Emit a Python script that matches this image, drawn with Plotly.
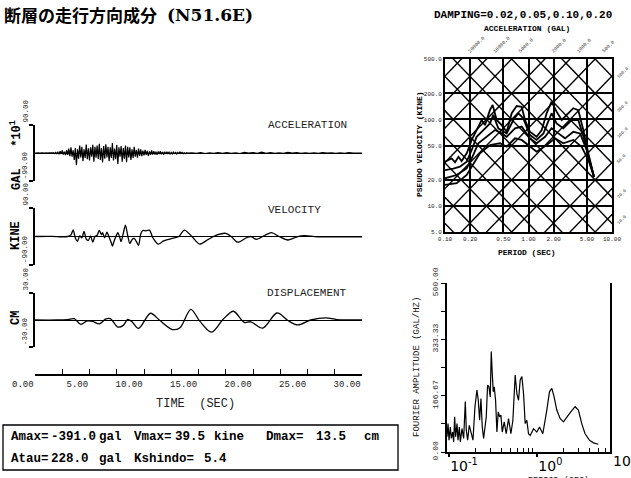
import math
import plotly.graph_objects as go

W, H = 631, 478
def px(x): return x / W
def py(y): return 1 - y / H

MONO = "Liberation Mono"

# ---------------- time histories ----------------
acc_head = [
    0, 0.5, -0.3, 0.4, -0.5, 0.3, -0.2, 0.6, -0.4, 0.3,
    -0.5, 0.8, -0.6, 1.0, -0.8, 1.2, -1.0, 0.9, -1.5, 1.8,
    -2, 3, -4, 6, -3, 8, -5, 4, -7, 9,
    -6, 14, -10, 18, -12, 9, -22, 16, -39, 12,
    -18, 24, -14, 20, -26, 12, -16, 27, -20, 15,
    -24, 18, -12, 26, -28, 20, -15, 24, -19, 30,
    -22, 16, -30, 22, -18, 28, -14, 20, -26, 18,
    -16, 32, -24, 14, -20, 26, -35, 18, -12, 22,
    -28, 16, -18, 24, -30, 20, -14, 18, -22, 12,
    -16, 20, -12, 10, -15, 14, -9, 12, -10, 8,
    -8, 10, -6, 7, -9, 5, -6, 8, -5, 6,
    -5, 4, -6, 5, -3, 6, -4, 3, -5, 4,
    -3, 4, -2, 3, -4, 2, -3, 3, -2, 2,
    -3, 2, -2, 3, -1, 2, -2, 1, -2, 1,
    0,
]
acc_tail = [
    0.8, -1.2, 1.0, -1.5, 0.6, -1.0, 1.4, -0.8, 1.0, -1.2,
    0.8, -1.5, 2.0, -0.6, 1.2, -1.0, 2.5, -0.8, 1.0, -1.2,
    0.6, -0.8, 2.2, -0.6, 1.0, -1.0, 0.8, -1.2, 0.6, -0.8,
    1.0, -0.6, 0.8, -1.0, 0.6, -0.8, 1.2, -0.6, 0.4, -0.2,
]
acc_t = [round(0.1 * i, 1) for i in range(len(acc_head))] + \
        [round(14.4 + 0.4 * i, 1) for i in range(len(acc_tail))]
acc_v = acc_head + acc_tail

vel_t = [0.0, 1.5, 2.5, 3.0, 3.3, 3.5, 3.7, 3.9, 4.1, 4.3, 4.5, 4.7, 4.9, 5.1, 5.3,
         5.5, 5.7, 5.9, 6.1, 6.2, 6.4, 6.6, 6.8, 7.0, 7.1, 7.3, 7.5, 7.6, 7.8, 7.9,
         8.1, 8.3, 8.5, 8.7, 8.9, 9.1, 9.3, 9.5, 9.7, 9.9, 10.2, 10.5, 10.8, 11.3,
         11.8, 12.6, 13.2, 13.7, 14.4, 15.1, 15.9, 16.7, 17.5, 18.0, 18.6, 19.4,
         19.8, 20.3, 21.1, 21.7, 22.4, 23.2, 23.8, 24.4, 24.8, 25.9, 27.5, 30.0]
vel_v = [0, 0.5, -1, 0, 5, 21, -5, -15, 2, -4, 16, -8, -12, 2, -18,
         0, 4, 19, 6, 12, -4, 14, -2, -20, -30, -10, 6, 12, -6, -16,
         10, 36, 4, -22, -10, -6, -16, -28, 8, 19, 18, 20, -3, -24,
         -14, -6, 0, 20, 0, -24, -9, 5, 10, 0, -18, -4,
         0, -9, 4, 12, 0, -11, -4, 2, 3, -1, -1, -1]

disp_t = [0.0, 2.0, 3.0, 3.6, 4.2, 4.8, 5.3, 5.9, 6.5, 6.9, 7.6, 8.1, 8.5, 8.9, 9.5,
          10.6, 11.4, 12.6, 13.3, 14.3, 15.1, 16.2, 17.3, 18.2, 19.2, 19.8, 20.9,
          22.2, 23.2, 24.1, 25.3, 26.7, 27.7, 30.0]
disp_v = [0, 0, 0.5, 1.4, -4.8, -1, -1.5, -4.4, 1.2, 1.5, -7.8, -6, 0.7, -2, -9.3,
          7.5, 0, -10.6, -8.5, 11.9, -1, -13.5, 1.3, 9.7, -2.7, -2, -9,
          7.8, -0.5, -5.5, 0, 2.4, 0.5, 0]

time_ticks = [0, 5, 10, 15, 20, 25, 30]
time_labels = ["0.00", "5.00", "10.00", "15.00", "20.00", "25.00", "30.00"]
time_minor = [2.5, 7.5, 12.5, 17.5, 22.5, 27.5]

# ---------------- response spectra (pseudo velocity, kine) ----------------
T_h02 = [0.1, 0.12, 0.132, 0.145, 0.158, 0.182, 0.209, 0.239, 0.275, 0.301, 0.346, 0.372,
         0.416, 0.477, 0.548, 0.629, 0.721, 0.828, 0.908, 1.04, 1.25, 1.44, 1.65, 1.89,
         2.17, 2.5, 3.0, 3.44, 3.95, 4.54, 5.21, 6.08]
V_h02 = [32.5, 35.5, 32, 37, 33, 40.6, 58, 75.5, 98.6, 86, 129, 147,
         98.6, 86, 72, 118, 143, 140, 98.6, 72, 63, 75.5, 118, 161,
         123, 98.6, 118, 135, 128, 75, 40.6, 21.8]
T_h05 = [0.1, 0.126, 0.151, 0.182, 0.209, 0.239, 0.288, 0.346, 0.379, 0.435, 0.548, 0.658,
         0.755, 0.867, 1.04, 1.25, 1.51, 1.73, 1.89, 2.17, 2.61, 3.29, 3.95, 4.54, 5.21, 6.08]
V_h05 = [26, 27, 28.5, 32.5, 44.4, 63, 75.5, 90, 113, 79, 69, 98.6,
         118, 103, 66, 58, 69, 94, 118, 90, 79, 98.6, 98.6, 63, 37, 21.8]
T_h10 = [0.1, 0.138, 0.182, 0.209, 0.251, 0.315, 0.397, 0.477, 0.548, 0.689, 0.828, 1.04,
         1.25, 1.58, 1.89, 2.28, 2.74, 3.44, 4.14, 4.97, 6.08]
V_h10 = [20.9, 22.8, 27.2, 35.5, 53, 63, 75.5, 69, 63, 79, 82.6, 60.5,
         53, 63, 79, 69, 60.5, 72, 69, 44.4, 21.8]
T_h20 = [0.1, 0.138, 0.182, 0.218, 0.262, 0.346, 0.456, 0.548, 0.689, 0.828, 1.04, 1.25,
         1.65, 2.08, 2.61, 3.44, 4.33, 5.21, 6.08]
V_h20 = [17.5, 18.3, 22.8, 29.8, 40.6, 50.7, 53, 48.4, 60.5, 58, 48.4, 42.4,
         50.7, 60.5, 53, 58, 48.4, 34, 21.8]

sa_lines = [5, 10, 20, 50, 100, 200, 500, 1000, 2000, 5000, 10000, 20000]      # gal
sd_lines = [0.1, 0.2, 0.5, 1, 2, 5, 10, 20, 50, 100, 200, 500]                 # cm
sa_top_labels = [20000, 10000, 5000, 2000, 1000, 500]
sd_right_labels = [500, 200, 100, 50, 20, 10]

period_ticks = [0.1, 0.2, 0.5, 1, 2, 5, 10]
period_labels = ["0.10", "0.20", "0.50", "1.00", "2.00", "5.00", "10.00"]
sv_ticks = [5, 10, 20, 50, 100, 200, 500]
sv_labels = ["5.0", "10.0", "20.0", "50.0", "100.0", "200.0", "500.0"]

# ---------------- Fourier amplitude ----------------
four_T = [0.0957, 0.0983, 0.1009, 0.1044, 0.1072, 0.111, 0.1139, 0.1169, 0.12, 0.1243,
          0.1276, 0.1321, 0.1356, 0.1416, 0.1479, 0.1544, 0.1585, 0.1641, 0.1714, 0.179,
          0.1886, 0.1987, 0.2093, 0.2167, 0.2244, 0.2323, 0.2405, 0.249, 0.2578, 0.2669,
          0.2763, 0.2861, 0.2962, 0.3041, 0.3121, 0.3204, 0.3289, 0.3405, 0.3525, 0.365,
          0.3779, 0.3913, 0.4051, 0.4268, 0.4496, 0.4778, 0.5078, 0.5349, 0.5684, 0.5937,
          0.62, 0.6477, 0.6765, 0.7065, 0.7379, 0.7706, 0.8049, 0.8406, 0.9169, 1.0,
          1.072, 1.169, 1.298, 1.391, 1.479, 1.571, 1.684, 1.837, 2.004, 2.186,
          2.427, 2.716, 2.963, 3.232, 3.526, 3.947, 4.381, 4.99]
four_A = [45, 84, 35, 74, 40, 59, 30, 104, 45, 84,
          35, 74, 30, 69, 40, 149, 64, 35, 79, 54,
          35, 134, 183, 153, 94, 158, 74, 40, 84, 104,
          198, 193, 163, 297, 233, 178, 193, 153, 59, 119,
          104, 109, 59, 89, 54, 99, 54, 94, 228, 173,
          153, 213, 223, 173, 84, 94, 54, 49, 69, 59,
          74, 54, 124, 178, 188, 163, 124, 99, 89, 104,
          119, 134, 124, 84, 54, 35, 27, 23]
four_ticks = [0, 166.67, 333.33, 500]
four_labels = ["0.00", "166.67", "333.33", "500.00"]
four_yminor = [83.33, 250, 416.67]
four_minor = [0.2, 0.3, 0.4, 0.5, 0.6, 0.7, 0.8, 0.9, 2, 3, 4, 5, 6]

# ---------------- figure ----------------
fig = go.Figure()
blk = "black"

fig.add_trace(go.Scatter(x=acc_t, y=acc_v, xaxis="x", yaxis="y", mode="lines",
                         line=dict(color=blk, width=1.2)))
fig.add_trace(go.Scatter(x=vel_t, y=vel_v, xaxis="x", yaxis="y2", mode="lines",
                         line=dict(color=blk, width=1.3, shape="spline", smoothing=0.8)))
fig.add_trace(go.Scatter(x=disp_t, y=disp_v, xaxis="x", yaxis="y3", mode="lines",
                         line=dict(color=blk, width=1.3, shape="spline", smoothing=0.9)))

# tripartite diagonals
TT = [0.03, 30]
for sa in sa_lines:
    fig.add_trace(go.Scatter(x=TT, y=[sa * t / (2 * math.pi) for t in TT], xaxis="x2", yaxis="y4",
                             mode="lines", line=dict(color=blk, width=1.4)))
for sd in sd_lines:
    fig.add_trace(go.Scatter(x=TT, y=[2 * math.pi * sd / t for t in TT], xaxis="x2", yaxis="y4",
                             mode="lines", line=dict(color=blk, width=1.4)))
for T, V in [(T_h02, V_h02), (T_h05, V_h05), (T_h10, V_h10), (T_h20, V_h20)]:
    fig.add_trace(go.Scatter(x=T, y=V, xaxis="x2", yaxis="y4", mode="lines",
                             line=dict(color=blk, width=1.8)))

fig.add_trace(go.Scatter(x=four_T, y=four_A, xaxis="x3", yaxis="y5", mode="lines",
                         line=dict(color=blk, width=1.2)))

wave_y = dict(showline=True, linecolor=blk, linewidth=1.5, ticks="outside", ticklen=4,
              tickwidth=1.5, tickcolor=blk, showticklabels=False, showgrid=False,
              zeroline=True, zerolinecolor=blk, zerolinewidth=1, anchor="x",
              automargin=False)

fig.update_layout(
    width=W, height=H, autosize=False, margin=dict(l=0, r=0, t=0, b=0, pad=0),
    paper_bgcolor="white", plot_bgcolor="rgba(0,0,0,0)", showlegend=False, hovermode=False,
    xaxis=dict(domain=[px(35), px(362)], range=[0, 30], anchor="free", position=py(375),
               showline=True, linecolor=blk, linewidth=1.5, ticks="inside", ticklen=5,
               tickwidth=1.3, tickcolor=blk, tickmode="array", tickvals=time_ticks,
               ticktext=time_labels, tickfont=dict(family=MONO, size=9, color="#222"),
               ticklabelposition="outside left",
               minor=dict(ticks="inside", ticklen=5, tickwidth=1.3, tickcolor=blk,
                          tickmode="array", tickvals=time_minor),
               showgrid=False, zeroline=False, automargin=False),
    yaxis=dict(domain=[py(181), py(125)], range=[-90, 90], tickvals=[-90, 90], **wave_y),
    yaxis2=dict(domain=[py(265), py(208)], range=[-90, 90], tickvals=[-90, 90], **wave_y),
    yaxis3=dict(domain=[py(347), py(293)], range=[-30, 30], tickvals=[-30, 30], **wave_y),
    xaxis2=dict(domain=[px(445), px(612)], type="log", range=[-1, 1], anchor="y4",
                showline=True, mirror=True, linecolor=blk, linewidth=2,
                showgrid=True, gridcolor=blk, gridwidth=1.5, ticks="",
                tickmode="array", tickvals=period_ticks, ticktext=period_labels,
                tickfont=dict(family=MONO, size=6, color="#222"), zeroline=False,
                automargin=False),
    yaxis4=dict(domain=[py(232), py(59)], type="log", range=[math.log10(5), math.log10(500)],
                anchor="x2", showline=True, mirror=True, linecolor=blk, linewidth=2,
                showgrid=True, gridcolor=blk, gridwidth=1.5, ticks="",
                tickmode="array", tickvals=sv_ticks, ticktext=sv_labels,
                tickfont=dict(family=MONO, size=6, color="#222"), zeroline=False,
                automargin=False),
    xaxis3=dict(domain=[px(447), px(610)], type="log", range=[-1.019, 0.83], anchor="y5",
                showline=True, linecolor=blk, linewidth=1.5, ticks="outside", ticklen=3,
                tickwidth=1.5, tickcolor=blk, tickmode="array", tickvals=[0.1, 1],
                ticktext=["10<sup>-1</sup>", "10<sup>0</sup>"],
                tickfont=dict(family="DejaVu Sans", size=14, color=blk),
                ticklabelposition="outside right",
                minor=dict(ticks="inside", ticklen=4, tickwidth=1, tickcolor=blk,
                           tickmode="array", tickvals=four_minor),
                showgrid=False, zeroline=False, automargin=False),
    yaxis5=dict(domain=[py(452), py(283)], range=[0, 500], anchor="x3",
                showline=True, mirror=True, linecolor=blk, linewidth=1.5,
                ticks="outside", ticklen=4, tickwidth=1.3, tickcolor=blk,
                tickmode="array", tickvals=four_ticks, ticktext=four_labels, tickangle=-90,
                tickfont=dict(family=MONO, size=8, color="#222"),
                minor=dict(ticks="outside", ticklen=4, tickwidth=1.3, tickcolor=blk,
                           tickmode="array", tickvals=four_yminor),
                showgrid=False, zeroline=False, automargin=False),
)

anns = []
def ann(text, X, Y, size=10, family=MONO, xanchor="center", yanchor="middle", angle=0,
        color="black"):
    anns.append(dict(text=text, x=px(X), y=py(Y), xref="paper", yref="paper",
                     xanchor=xanchor, yanchor=yanchor, textangle=angle, showarrow=False,
                     font=dict(family=family, size=size, color=color)))

# title
ann("<b>断層の走行方向成分</b>", 2, 14, size=17, family="Noto Sans CJK JP", xanchor="left")
ann("<b>(N51.6E)</b>", 165, 15, size=17, family="DejaVu Serif", xanchor="left")

# waveform labels
ann("ACCELERATION", 307, 125, size=11, color="#222")
ann("VELOCITY", 294, 210, size=11, color="#222")
ann("DISPLACEMENT", 307, 293, size=11, color="#222")
ann("<b>GAL   *10<sup>1</sup></b>", 16, 155, size=12, angle=-90)
ann("<b>KINE</b>", 16, 236, size=12, angle=-90)
ann("<b>CM</b>", 16, 318, size=12, angle=-90)
ann("TIME  (SEC)", 195, 404, size=12, color="#222")

# waveform y tick labels (start at the tick, read upward)
for yref, vals in [("y", [90, -90]), ("y2", [90, -90]), ("y3", [30, -30])]:
    for v in vals:
        anns.append(dict(text="%.2f" % v, x=px(25), y=v, xref="paper", yref=yref,
                         xanchor="center", yanchor="bottom", textangle=-90, showarrow=False,
                         font=dict(family=MONO, size=7.5, color="#222")))

# summary box text
line1 = [("Amax=", 10), ("-391.0", 50), ("gal", 98), ("Vmax=", 133), ("39.5", 174),
         ("kine", 213), ("Dmax=", 265), ("13.5", 315), ("cm", 363)]
line2 = [("Atau=", 10), ("228.0", 50), ("gal", 98), ("Kshindo=", 133), ("5.4", 203)]
for txt, X in line1:
    ann("<b>%s</b>" % txt, X - 1, 437, size=12.5, xanchor="left")
for txt, X in line2:
    ann("<b>%s</b>" % txt, X - 1, 459, size=12.5, xanchor="left")

# spectrum texts
ann("<b>DAMPING=0.02,0.05,0.10,0.20</b>", 523, 15, size=11)
ann("<b>ACCELERATION (GAL)</b>", 527, 28, size=8)
ann("<b>PSEUDO VELOCITY (KINE)</b>", 419, 144, size=8, angle=-90)
ann("<b>PERIOD (SEC)</b>", 527, 252, size=8)
for sa in sa_top_labels:
    anns.append(dict(text="%.1f" % sa, x=math.log10(2 * math.pi * 500 / sa), y=math.log10(500),
                     xref="x2", yref="y4", xanchor="left", yanchor="bottom", xshift=3, yshift=2,
                     textangle=-45, showarrow=False, font=dict(family=MONO, size=5, color="#444")))
for sd in sd_right_labels:
    anns.append(dict(text="%.1f" % sd, x=1, y=math.log10(2 * math.pi * sd / 10),
                     xref="x2", yref="y4", xanchor="left", yanchor="middle", xshift=1, yshift=4,
                     textangle=-45, showarrow=False, font=dict(family=MONO, size=4.5, color="#444")))

# Fourier texts
ann("FOURIER AMPLITUDE (GAL/HZ)", 417, 367, size=9, angle=-90, color="#222")
ann("10", 611, 461, size=14, family="DejaVu Sans", xanchor="left")
ann("PERIOD (SEC)", 558, 474, size=8.5, yanchor="top", color="#222")

fig.update_layout(annotations=anns)

# summary box frame
fig.add_shape(type="rect", xref="paper", yref="paper", x0=px(3), x1=px(398),
              y0=py(470), y1=py(425), line=dict(color=blk, width=1.3))

fig.write_html("out.html", config={"displayModeBar": False},
               post_script="document.body.style.margin='0px';document.body.style.overflow='hidden';")
